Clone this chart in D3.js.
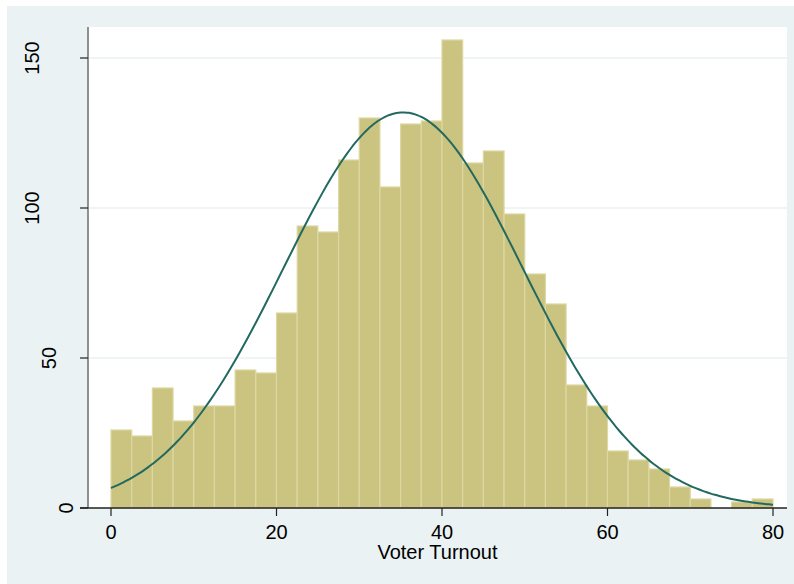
<!DOCTYPE html>
<html>
<head>
<meta charset="utf-8">
<script src="https://cdn.jsdelivr.net/npm/d3@7"></script>
<style>
  body { margin: 0; background: #ffffff; }
  svg { display: block; }
  .tick-label { font-family: "Liberation Sans", Arial, sans-serif; font-size: 20px; fill: #000; }
  .axis-title { font-family: "Liberation Sans", Arial, sans-serif; font-size: 20px; fill: #000; }
</style>
</head>
<body>
<svg id="chart" width="794" height="584"></svg>
<script>
// histogram bins (lower edge of each bin) and counts
const binStarts = [0, 2.5, 5, 7.5, 10, 12.5, 15, 17.5, 20, 22.5, 25, 27.5, 30, 32.5, 35, 37.5,
                   40, 42.5, 45, 47.5, 50, 52.5, 55, 57.5, 60, 62.5, 65, 67.5, 70, 72.5, 75, 77.5]
const binWidth = 2.5
const counts = [26, 24, 40, 29, 34, 34, 46, 45, 65, 94, 92, 116, 130, 107, 128, 129,
                156, 115, 119, 98, 78, 68, 41, 34, 19, 16, 13, 7, 3, 0, 2, 3]

// fitted normal overlay (mean / sd of the variable)
const fitMean = 35.3
const fitSd = 14.45

const xTicks = [0, 20, 40, 60, 80]
const yTicks = [0, 50, 100, 150]
const xLabel = "Voter Turnout"

function histogram_plot(ax)
{
    let svg = d3.select(`#${ax}`)

    let plotLeft = 88, plotRight = 787, plotTop = 27, plotBottom = 508

    let xScale = d3.scaleLinear().domain([0, 80]).range([111, 773])
    let yScale = d3.scaleLinear().domain([0, 150]).range([plotBottom, 58])

    // graph region background
    svg.append("rect")
        .attr("x", 7).attr("y", 6)
        .attr("width", 794 - 7).attr("height", 584 - 6)
        .style("fill", "#eaf2f3")

    // plot region
    svg.append("rect")
        .attr("x", plotLeft).attr("y", plotTop)
        .attr("width", plotRight - plotLeft).attr("height", plotBottom - plotTop)
        .style("fill", "#ffffff")

    // grid lines
    svg.selectAll(".grid")
        .data(yTicks.filter(d => d > 0))
        .enter()
        .append("line")
        .attr("x1", plotLeft).attr("x2", plotRight)
        .attr("y1", d => yScale(d)).attr("y2", d => yScale(d))
        .style("stroke", "#eaf2f3")
        .style("stroke-width", 1.5)

    let data = binStarts.map((b, i) => ({x0: b, x1: b + binWidth, n: counts[i]}))

    // bars
    svg.selectAll(".bar")
        .data(data.filter(d => d.n > 0))
        .enter()
        .append("rect")
        .attr("x", d => xScale(d.x0))
        .attr("y", d => yScale(d.n))
        .attr("width", d => xScale(d.x1) - xScale(d.x0))
        .attr("height", d => yScale(0) - yScale(d.n))
        .style("fill", "#cbc380")
        .style("stroke", "#ddd8a2")
        .style("stroke-width", 1.2)

    // normal density curve
    let total = d3.sum(counts)
    let curveX = d3.range(0, 80.001, 0.5)
    let curve = curveX.map(x => ({
        x: x,
        y: total * binWidth / (fitSd * Math.sqrt(2 * Math.PI)) *
           Math.exp(-((x - fitMean) ** 2) / (2 * fitSd * fitSd))
    }))
    let line = d3.line().x(d => xScale(d.x)).y(d => yScale(d.y)).curve(d3.curveBasis)
    svg.append("path")
        .datum(curve)
        .attr("d", line)
        .style("fill", "none")
        .style("stroke", "#22695f")
        .style("stroke-width", 2)

    // y axis
    svg.append("line")
        .attr("x1", plotLeft).attr("x2", plotLeft)
        .attr("y1", plotTop).attr("y2", plotBottom)
        .style("stroke", "#6e6e6e").style("stroke-width", 1.5)
    svg.selectAll(".ytick")
        .data(yTicks)
        .enter()
        .append("line")
        .attr("x1", plotLeft - 8).attr("x2", plotLeft)
        .attr("y1", d => yScale(d)).attr("y2", d => yScale(d))
        .style("stroke", "#222").style("stroke-width", 1.2)
    svg.selectAll(".ylab")
        .data(yTicks)
        .enter()
        .append("text")
        .attr("class", "tick-label")
        .attr("text-anchor", "middle")
        .attr("transform", d => {
            let n = String(d).length
            return `translate(${72.5 - 16.7 * (n - 1)},${yScale(d)}) rotate(-90)`})
        .text(d => d)

    // x axis
    svg.append("line")
        .attr("x1", plotLeft - 8).attr("x2", plotRight)
        .attr("y1", plotBottom).attr("y2", plotBottom)
        .style("stroke", "#222").style("stroke-width", 1.5)
    svg.selectAll(".xtick")
        .data(xTicks)
        .enter()
        .append("line")
        .attr("x1", d => xScale(d)).attr("x2", d => xScale(d))
        .attr("y1", plotBottom).attr("y2", plotBottom + 8)
        .style("stroke", "#222").style("stroke-width", 1.2)
    svg.selectAll(".xlab")
        .data(xTicks)
        .enter()
        .append("text")
        .attr("class", "tick-label")
        .attr("text-anchor", "middle")
        .attr("x", d => xScale(d))
        .attr("y", 539)
        .text(d => d)

    // axis title
    svg.append("text")
        .attr("class", "axis-title")
        .attr("text-anchor", "middle")
        .attr("x", (plotLeft + plotRight) / 2)
        .attr("y", 559)
        .text(xLabel)
}

histogram_plot("chart")
</script>
</body>
</html>
